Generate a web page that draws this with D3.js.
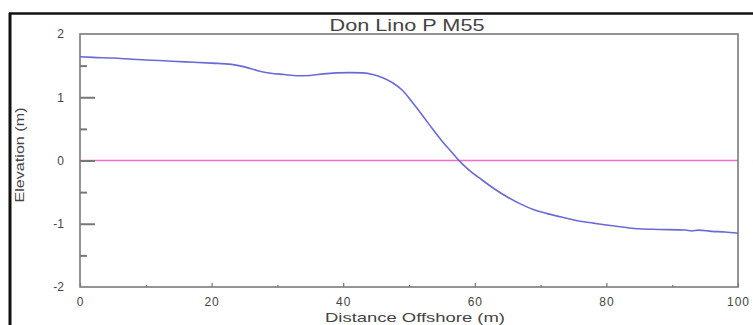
<!DOCTYPE html>
<html>
<head>
<meta charset="utf-8">
<script src="https://cdn.jsdelivr.net/npm/d3@7"></script>
<style>
  body { margin: 0; background: #fff; }
  text { font-family: Arial, "Liberation Sans", sans-serif; fill: #444; }
</style>
</head>
<body>
<div id="chart"></div>
<script>
// Profile data: distance offshore (m) vs elevation (m)
const distance = [0, 2, 5, 8, 12, 16, 20, 23, 25, 27, 29, 31, 33, 35, 37, 39, 41, 43, 44.5, 46, 47.5, 49,
  50.5, 52, 53.5, 55, 56.5, 57.5, 59, 61, 63, 65, 67, 69, 71, 73, 76, 78, 80, 83, 85, 88, 92, 93, 94, 96, 98, 100];
const elevation = [1.64, 1.63, 1.62, 1.60, 1.58, 1.56, 1.54, 1.52, 1.48, 1.42, 1.38, 1.36, 1.34, 1.345, 1.37, 1.385, 1.39, 1.385, 1.36, 1.31, 1.23, 1.11,
  0.92, 0.72, 0.51, 0.31, 0.13, 0.01, -0.14, -0.30, -0.45, -0.58, -0.69, -0.78, -0.84, -0.89, -0.96, -0.99, -1.02, -1.06, -1.08, -1.09, -1.10, -1.115, -1.10, -1.12, -1.13, -1.15];
const xTicks = [0, 10, 20, 30, 40, 50, 60, 70, 80, 90, 100];
const yTicks = [-2, -1.5, -1, -0.5, 0, 0.5, 1, 1.5, 2];
const title = "Don Lino P M55";

const width = 753, height = 325;
const svg = d3.select("#chart").append("svg")
  .attr("width", width)
  .attr("height", height);

const x = d3.scaleLinear().domain([0, 100]).range([80, 738]);
const y = d3.scaleLinear().domain([-2, 2]).range([287, 34]);

// outer frame (top and left edges visible)
svg.append("line").attr("x1", 9).attr("x2", width).attr("y1", 13.5).attr("y2", 13.5)
  .attr("stroke", "#111").attr("stroke-width", 2.5);
svg.append("line").attr("x1", 10).attr("x2", 10).attr("y1", 13).attr("y2", height)
  .attr("stroke", "#111").attr("stroke-width", 3);

// zero reference line
svg.append("line")
  .attr("x1", x(0)).attr("x2", x(100))
  .attr("y1", y(0)).attr("y2", y(0))
  .attr("stroke", "#ee6fcc").attr("stroke-width", 1.5);

// x axis
const xAxis = svg.append("g")
  .attr("transform", `translate(0,${y(-2)})`)
  .call(d3.axisBottom(x).tickValues(xTicks).tickSize(0).tickPadding(10)
    .tickFormat(d => d % 20 === 0 ? d : ""));
xAxis.select(".domain").remove();
xAxis.selectAll(".tick line")
  .attr("y2", d => d % 20 === 0 ? -4 : -2)
  .attr("stroke", "#777").attr("stroke-width", 1.2);
xAxis.selectAll(".tick text").attr("font-size", 12).attr("letter-spacing", 1).attr("fill", "#555");

// y axis
const yAxis = svg.append("g")
  .attr("transform", `translate(${x(0)},0)`)
  .call(d3.axisLeft(y).tickValues(yTicks).tickSize(0).tickPadding(16)
    .tickFormat(d => Number.isInteger(d) ? d : ""));
yAxis.select(".domain").remove();
yAxis.selectAll(".tick line")
  .attr("x2", d => Math.abs(d) === 2 ? 0 : (Number.isInteger(d) ? 15 : 7))
  .attr("stroke", "#777").attr("stroke-width", 2);
yAxis.selectAll(".tick text").attr("font-size", 12).attr("fill", "#555");

// plot box
svg.append("rect")
  .attr("x", x(0)).attr("y", y(2))
  .attr("width", x(100) - x(0)).attr("height", y(-2) - y(2))
  .attr("fill", "none").attr("stroke", "#7a7a7a").attr("stroke-width", 1.6);

// profile line
const line = d3.line()
  .x((d, i) => x(distance[i]))
  .y(d => y(d))
  .curve(d3.curveMonotoneX);
svg.append("path")
  .datum(elevation)
  .attr("d", line)
  .attr("fill", "none")
  .attr("stroke", "#6a6ad6")
  .attr("stroke-width", 1.6);

// titles
svg.append("text")
  .attr("x", 407).attr("y", 31)
  .attr("text-anchor", "middle")
  .attr("font-size", 17)
  .attr("textLength", 155).attr("lengthAdjust", "spacingAndGlyphs")
  .attr("fill", "#333")
  .text(title);

svg.append("text")
  .attr("x", 415).attr("y", 322)
  .attr("text-anchor", "middle")
  .attr("font-size", 13)
  .attr("textLength", 180).attr("lengthAdjust", "spacingAndGlyphs")
  .attr("fill", "#444")
  .text("Distance Offshore (m)");

svg.append("text")
  .attr("transform", "translate(24,155) rotate(-90)")
  .attr("text-anchor", "middle")
  .attr("font-size", 13)
  .attr("textLength", 95).attr("lengthAdjust", "spacingAndGlyphs")
  .attr("fill", "#444")
  .text("Elevation (m)");
</script>
</body>
</html>
